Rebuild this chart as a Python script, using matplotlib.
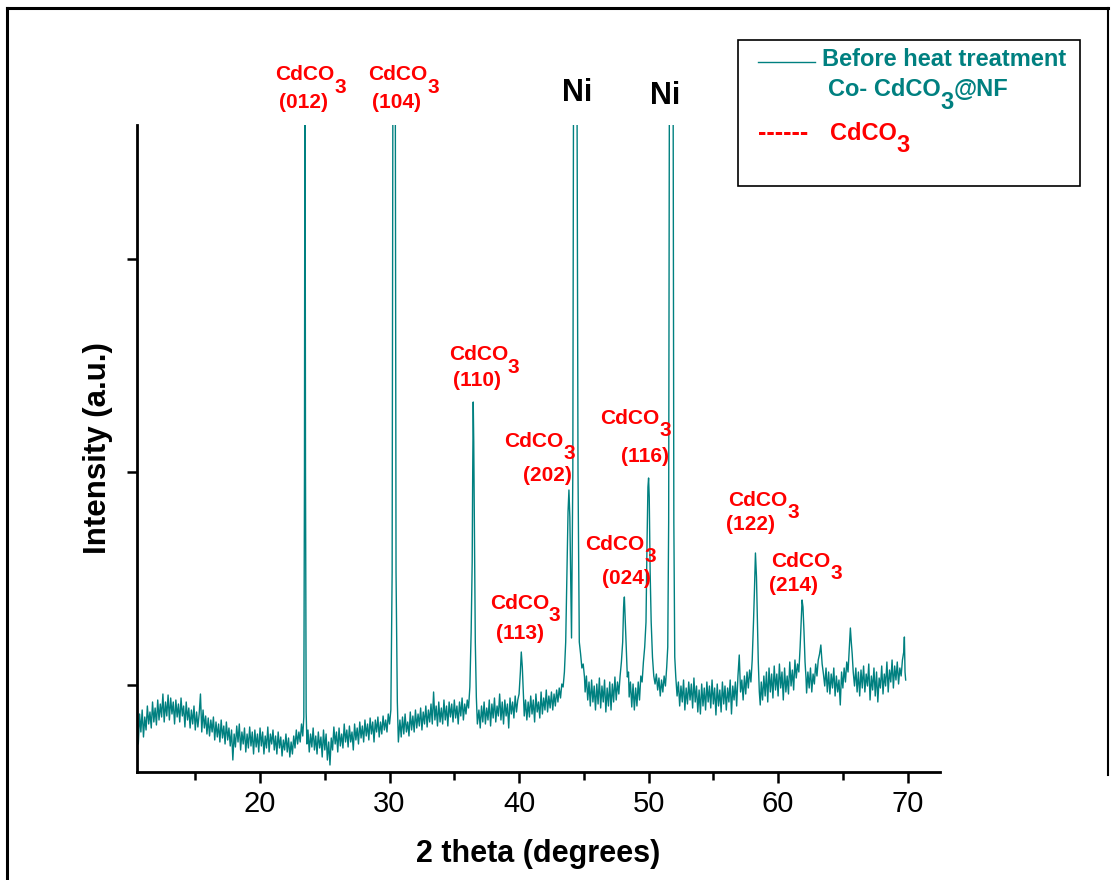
import matplotlib
matplotlib.use('Agg')
import matplotlib.pyplot as plt
from matplotlib.lines import Line2D
from matplotlib.patches import Rectangle
from matplotlib.ticker import MultipleLocator

# ---------------- data (2 theta in degrees, intensity in a.u.) ----------------
seg_low_angle = [
    (10.5, 45), (10.6, 28), (10.7, 58), (10.8, 40), (10.9, 62), (11.0, 35), (11.1, 55), (11.2, 42),
    (11.3, 66), (11.4, 48), (11.5, 60), (11.6, 44), (11.7, 70), (11.8, 50), (11.9, 64), (12.0, 47),
    (12.1, 72), (12.2, 52), (12.3, 68), (12.4, 55), (12.5, 78), (12.6, 50), (12.7, 70), (12.8, 56),
    (12.9, 77), (13.0, 52), (13.1, 74), (13.2, 58), (13.3, 70), (13.4, 48), (13.5, 72), (13.6, 55),
    (13.7, 68), (13.8, 50), (13.9, 74), (14.0, 56), (14.1, 66), (14.2, 45), (14.3, 70), (14.4, 52),
    (14.5, 64), (14.6, 44), (14.7, 62), (14.8, 48), (14.9, 66), (15.0, 42), (15.1, 60), (15.2, 45),
    (15.3, 58), (15.4, 78), (15.5, 40), (15.6, 62), (15.7, 44), (15.8, 56), (15.9, 38), (16.0, 54),
    (16.1, 36), (16.2, 52), (16.3, 40), (16.4, 55), (16.5, 32), (16.6, 50), (16.7, 35), (16.8, 48),
    (16.9, 30), (17.0, 52), (17.1, 34), (17.2, 46), (17.3, 28), (17.4, 50), (17.5, 32), (17.6, 44),
    (17.7, 26), (17.8, 42), (17.9, 12), (18.0, 38), (18.1, 25), (18.2, 46), (18.3, 30), (18.4, 48),
    (18.5, 22), (18.6, 40), (18.7, 28), (18.8, 44), (18.9, 20), (19.0, 38), (19.1, 24), (19.2, 45),
    (19.3, 26), (19.4, 40), (19.5, 18), (19.6, 42), (19.7, 25), (19.8, 38), (19.9, 20), (20.0, 44),
    (20.1, 26), (20.2, 40), (20.3, 18), (20.4, 36), (20.5, 24), (20.6, 45), (20.7, 20), (20.8, 38),
    (20.9, 28), (21.0, 42), (21.1, 22), (21.2, 36), (21.3, 18), (21.4, 40), (21.5, 24), (21.6, 35),
    (21.7, 16), (21.8, 32), (21.9, 22), (22.0, 38), (22.1, 20), (22.2, 34), (22.3, 15), (22.4, 30),
    (22.5, 18), (22.6, 36), (22.7, 24), (22.8, 42), (22.9, 28), (23.0, 40), (23.1, 30), (23.2, 48),
    (23.3, 36)]
seg_peak_012 = [(23.38, 55), (23.43, 300), (23.47, 800), (23.51, 300), (23.56, 60), (23.62, 28)]
seg_mid_a = [
    (23.7, 42), (23.8, 20), (23.9, 38), (24.0, 25), (24.1, 44), (24.2, 22), (24.3, 36), (24.4, 18),
    (24.5, 40), (24.6, 24), (24.7, 35), (24.8, 15), (24.9, 42), (25.0, 22), (25.1, 38), (25.2, 12),
    (25.3, 30), (25.4, 7), (25.5, 34), (25.6, 22), (25.7, 45), (25.8, 28), (25.9, 40), (26.0, 20),
    (26.1, 44), (26.2, 26), (26.3, 38), (26.4, 24), (26.5, 48), (26.6, 30), (26.7, 42), (26.8, 25),
    (26.9, 46), (27.0, 30), (27.1, 40), (27.2, 22), (27.3, 48), (27.4, 32), (27.5, 44), (27.6, 28),
    (27.7, 50), (27.8, 34), (27.9, 46), (28.0, 30), (28.1, 52), (28.2, 36), (28.3, 48), (28.4, 32),
    (28.5, 54), (28.6, 38), (28.7, 50), (28.8, 30), (28.9, 52), (29.0, 40), (29.1, 55), (29.2, 35),
    (29.3, 50), (29.4, 38), (29.5, 56), (29.6, 42), (29.7, 52), (29.8, 40), (29.9, 58), (30.0, 48)]
seg_peak_104 = [(30.1, 62), (30.2, 200), (30.27, 800), (30.43, 800), (30.5, 200), (30.6, 70), (30.68, 30)]
seg_mid_b = [
    (30.8, 52), (30.9, 35), (31.0, 55), (31.1, 38), (31.2, 58), (31.3, 40), (31.4, 50), (31.5, 36),
    (31.6, 60), (31.7, 42), (31.8, 56), (31.9, 40), (32.0, 62), (32.1, 44), (32.2, 58), (32.3, 46),
    (32.4, 64), (32.5, 42), (32.6, 60), (32.7, 48), (32.8, 66), (32.9, 45), (33.0, 62), (33.1, 50),
    (33.2, 68), (33.3, 48), (33.4, 80), (33.5, 52), (33.6, 66), (33.7, 46), (33.8, 70), (33.9, 50),
    (34.0, 64), (34.1, 48), (34.2, 72), (34.3, 52), (34.4, 66), (34.5, 46), (34.6, 70), (34.7, 55),
    (34.8, 68), (34.9, 50), (35.0, 72), (35.1, 54), (35.2, 66), (35.3, 48), (35.4, 70), (35.5, 56),
    (35.6, 74), (35.7, 52), (35.8, 68), (35.9, 58), (36.0, 72), (36.1, 64), (36.2, 85)]
seg_peak_110 = [(36.3, 140), (36.38, 210), (36.42, 300), (36.46, 370), (36.5, 330), (36.55, 250),
                (36.62, 130), (36.7, 75), (36.78, 48)]
seg_mid_c = [
    (36.9, 62), (37.0, 44), (37.1, 66), (37.2, 50), (37.3, 70), (37.4, 48), (37.5, 64), (37.6, 52),
    (37.7, 72), (37.8, 46), (37.9, 68), (38.0, 54), (38.1, 74), (38.2, 50), (38.3, 66), (38.4, 56),
    (38.5, 78), (38.6, 52), (38.7, 70), (38.8, 48), (38.9, 72), (39.0, 56), (39.1, 68), (39.2, 44),
    (39.3, 74), (39.4, 58), (39.5, 70), (39.6, 54), (39.7, 76), (39.8, 60), (39.9, 72), (40.0, 78)]
seg_peak_113 = [(40.1, 100), (40.17, 120), (40.25, 105), (40.33, 80), (40.4, 56)]
seg_mid_d = [
    (40.5, 72), (40.6, 52), (40.7, 70), (40.8, 55), (40.9, 76), (41.0, 58), (41.1, 72), (41.2, 50),
    (41.3, 78), (41.4, 60), (41.5, 70), (41.6, 54), (41.7, 80), (41.8, 58), (41.9, 74), (42.0, 62),
    (42.1, 82), (42.2, 60), (42.3, 76), (42.4, 64), (42.5, 80), (42.6, 62), (42.7, 78), (42.8, 66),
    (42.9, 82), (43.0, 70), (43.1, 84), (43.2, 74), (43.3, 88), (43.4, 85), (43.5, 100), (43.6, 130)]
seg_peak_202_ni = [(43.7, 200), (43.78, 260), (43.85, 282), (43.92, 255), (43.98, 200), (44.05, 134),
                   (44.15, 300), (44.22, 800), (44.45, 800), (44.55, 300), (44.65, 130), (44.75, 118),
                   (44.85, 104), (44.95, 108), (45.05, 95)]
seg_mid_e = [
    (45.1, 80), (45.2, 96), (45.3, 72), (45.4, 90), (45.5, 66), (45.6, 92), (45.7, 70), (45.8, 86),
    (45.9, 62), (46.0, 88), (46.1, 68), (46.2, 94), (46.3, 64), (46.4, 86), (46.5, 70), (46.6, 92),
    (46.7, 60), (46.8, 84), (46.9, 66), (47.0, 90), (47.1, 62), (47.2, 88), (47.3, 70), (47.4, 95),
    (47.5, 72), (47.6, 90), (47.7, 78), (47.8, 96)]
seg_peak_024_116 = [
    (47.9, 110), (48.0, 130), (48.07, 165), (48.13, 175), (48.2, 150), (48.28, 120), (48.36, 95),
    (48.45, 100), (48.5, 75), (48.6, 90), (48.7, 65), (48.8, 88), (48.9, 62), (49.0, 84), (49.1, 66),
    (49.2, 90), (49.3, 72), (49.4, 96), (49.5, 90), (49.6, 110), (49.7, 125), (49.8, 150), (49.88, 230),
    (49.95, 285), (50.0, 294), (50.05, 275), (50.12, 200), (50.2, 150), (50.3, 115), (50.4, 96),
    (50.5, 88), (50.6, 98), (50.7, 82), (50.8, 94), (50.9, 76), (51.0, 92), (51.1, 80), (51.2, 96),
    (51.3, 86), (51.4, 105), (51.48, 125)]
seg_peak_ni2 = [(51.55, 250), (51.62, 800), (51.88, 800), (51.95, 250), (52.02, 115), (52.1, 95), (52.2, 76)]
seg_mid_f = [
    (52.3, 90), (52.4, 66), (52.5, 86), (52.6, 70), (52.7, 92), (52.8, 62), (52.9, 84), (53.0, 68),
    (53.1, 90), (53.2, 72), (53.3, 88), (53.4, 64), (53.5, 94), (53.6, 70), (53.7, 86), (53.8, 60),
    (53.9, 82), (54.0, 58), (54.1, 88), (54.2, 66), (54.3, 84), (54.4, 62), (54.5, 90), (54.6, 70),
    (54.7, 86), (54.8, 64), (54.9, 92), (55.0, 68), (55.1, 84), (55.2, 57), (55.3, 88), (55.4, 66),
    (55.5, 82), (55.6, 60), (55.7, 90), (55.8, 68), (55.9, 86), (56.0, 62), (56.1, 84), (56.2, 70),
    (56.3, 92), (56.4, 58), (56.5, 86), (56.6, 72), (56.7, 90), (56.8, 66), (56.9, 96), (57.0, 117),
    (57.1, 80), (57.2, 92), (57.3, 72), (57.4, 96), (57.5, 78), (57.6, 100), (57.7, 84), (57.8, 102),
    (57.9, 90), (58.0, 112)]
seg_peak_122 = [(58.1, 150), (58.17, 180), (58.25, 219), (58.33, 195), (58.4, 150), (58.47, 110),
                (58.55, 80), (58.62, 67)]
seg_mid_g = [
    (58.7, 90), (58.8, 72), (58.9, 96), (59.0, 76), (59.1, 100), (59.2, 70), (59.3, 104), (59.4, 80),
    (59.5, 98), (59.6, 74), (59.7, 106), (59.8, 82), (59.9, 98), (60.0, 76), (60.1, 108), (60.2, 84),
    (60.3, 100), (60.4, 72), (60.5, 104), (60.6, 80), (60.7, 96), (60.8, 78), (60.9, 110), (61.0, 86),
    (61.1, 102), (61.2, 82), (61.3, 112), (61.4, 94), (61.5, 108), (61.6, 100), (61.7, 125)]
seg_high_angle = [
    (61.78, 150), (61.85, 172), (61.92, 165), (62.0, 140), (62.08, 110), (62.15, 95), (62.2, 79),
    (62.3, 100), (62.4, 84), (62.5, 104), (62.6, 80), (62.7, 98), (62.8, 88), (62.9, 108), (63.0, 96),
    (63.1, 112), (63.2, 118), (63.3, 127), (63.4, 108), (63.5, 98), (63.6, 86), (63.7, 104), (63.8, 80),
    (63.9, 100), (64.0, 78), (64.1, 98), (64.2, 84), (64.3, 104), (64.4, 76), (64.5, 96), (64.6, 80),
    (64.7, 92), (64.8, 67), (64.9, 100), (65.0, 84), (65.1, 104), (65.2, 90), (65.3, 110), (65.4, 100),
    (65.5, 125), (65.58, 144), (65.65, 130), (65.72, 118), (65.8, 100), (65.9, 86), (66.0, 104),
    (66.1, 80), (66.2, 100), (66.3, 76), (66.4, 102), (66.5, 84), (66.6, 106), (66.7, 80), (66.8, 98),
    (66.9, 86), (67.0, 108), (67.1, 72), (67.2, 96), (67.3, 82), (67.4, 104), (67.5, 76), (67.6, 100),
    (67.7, 70), (67.8, 94), (67.9, 84), (68.0, 106), (68.1, 78), (68.2, 98), (68.3, 86), (68.4, 110),
    (68.5, 80), (68.6, 102), (68.7, 90), (68.8, 112), (68.9, 84), (69.0, 106), (69.1, 92), (69.2, 110),
    (69.3, 88), (69.4, 104), (69.5, 96), (69.6, 112), (69.7, 120), (69.75, 135), (69.8, 100), (69.85, 92)]

segments = [seg_low_angle, seg_peak_012, seg_mid_a, seg_peak_104, seg_mid_b, seg_peak_110,
            seg_mid_c, seg_peak_113, seg_mid_d, seg_peak_202_ni, seg_mid_e, seg_peak_024_116,
            seg_peak_ni2, seg_mid_f, seg_peak_122, seg_mid_g, seg_high_angle]
points = [p for seg in segments for p in seg]
two_theta = [p[0] for p in points]
intensity = [p[1] for p in points]

x_ticks = [20, 30, 40, 50, 60, 70]
y_ticks = [87, 300, 513]

# labels: (hkl, CdCO label position, hkl label position)
cdco3_labels = [("(012)", (23.48, 697), (23.32, 670)),
                ("(104)", (30.66, 697), (30.51, 670)),
                ("(110)", (36.85, 417), (36.77, 392)),
                ("(202)", (41.15, 331), (42.2, 297)),
                ("(113)", (40.02, 169), (40.09, 139)),
                ("(024)", (47.36, 228), (48.28, 194)),
                ("(116)", (48.55, 354), (49.75, 316)),
                ("(122)", (58.41, 272), (57.87, 248)),
                ("(214)", (61.73, 211), (61.19, 187))]
ni_labels = [("Ni", (44.5, 679)), ("Ni", (51.3, 676))]

TEAL = '#008080'
RED = '#FF0000'
FONT = ['Liberation Sans', 'DejaVu Sans']

W, H = 1116, 880
fig = plt.figure(figsize=(W / 100, H / 100), dpi=100)
ax = fig.add_axes([137 / W, 1 - 772 / H, (940 - 137) / W, (772 - 125) / H])

ax.plot(two_theta, intensity, color=TEAL, lw=1.0)

ax.set_xlim(10.5, 72.5)
ax.set_ylim(0, 647)
ax.set_xticks(x_ticks)
ax.xaxis.set_minor_locator(MultipleLocator(5))
ax.set_yticks(y_ticks)
ax.set_yticklabels([])
for s in ['top', 'right']:
    ax.spines[s].set_visible(False)
for s in ['left', 'bottom']:
    ax.spines[s].set_linewidth(2.0)
ax.tick_params(axis='x', which='major', direction='out', length=8, width=1.8,
               labelsize=21, pad=5, labelfontfamily=FONT)
ax.tick_params(axis='x', which='minor', direction='out', length=6, width=1.8)
ax.tick_params(axis='y', which='major', direction='out', length=7, width=1.8)

ax.set_xlabel('2 theta (degrees)', fontsize=22, fontweight='bold', family=FONT, labelpad=15)
ax.set_ylabel('Intensity (a.u.)', fontsize=22.5, fontweight='bold', family=FONT, labelpad=7)

for hkl, (cx, cy), (hx, hy) in cdco3_labels:
    t = ax.text(cx, cy, 'CdCO', color=RED, fontsize=15, fontweight='bold', family=FONT,
                ha='center', va='center')
    ax.annotate('3', xy=(1.0, -0.15), xycoords=t, color=RED, fontsize=15, fontweight='bold',
                family=FONT, ha='left', va='center', annotation_clip=False)
    ax.text(hx, hy, hkl, color=RED, fontsize=15, fontweight='bold', family=FONT,
            ha='center', va='center')

for txt, (nx, ny) in ni_labels:
    ax.text(nx, ny, txt, color='black', fontsize=22, fontweight='bold', family=FONT,
            ha='center', va='center')

# legend box
fig.add_artist(Rectangle((738 / W, 1 - 186 / H), (1080 - 738) / W, (186 - 40) / H,
                         transform=fig.transFigure, fill=False, ec='black', lw=1.2))
fig.add_artist(Line2D([758 / W, 815 / W], [1 - 62 / H] * 2, transform=fig.transFigure,
                      color=TEAL, lw=1.0))
fig.text(822 / W, 1 - 60 / H, 'Before heat treatment', color=TEAL, fontsize=17,
         fontweight='bold', family=FONT, ha='left', va='center')
t1 = fig.text(828 / W, 1 - 90 / H, 'Co- CdCO', color=TEAL, fontsize=17,
              fontweight='bold', family=FONT, ha='left', va='center')
t2 = ax.annotate('3', xy=(1.0, -0.05), xycoords=t1, color=TEAL, fontsize=17, fontweight='bold',
                 family=FONT, ha='left', va='center', annotation_clip=False)
ax.annotate('@NF', xy=(1.0, 0.5), xycoords=(t2, t1), color=TEAL, fontsize=17, fontweight='bold',
            family=FONT, ha='left', va='center', annotation_clip=False)
fig.text(758 / W, 1 - 133 / H, '------', color=RED, fontsize=18, fontweight='bold',
         family=FONT, ha='left', va='center')
t3 = fig.text(830 / W, 1 - 133 / H, 'CdCO', color=RED, fontsize=17, fontweight='bold',
              family=FONT, ha='left', va='center')
ax.annotate('3', xy=(1.0, -0.05), xycoords=t3, color=RED, fontsize=17, fontweight='bold',
            family=FONT, ha='left', va='center', annotation_clip=False)

# figure frame
fx0, fx1, fy1 = 7 / W, 1108 / W, 1 - 8 / H
fig.add_artist(Line2D([fx0, fx0], [0, fy1], transform=fig.transFigure, color='black', lw=2.2))
fig.add_artist(Line2D([fx0, fx1], [fy1, fy1], transform=fig.transFigure, color='black', lw=2.2))
fig.add_artist(Line2D([fx1, fx1], [fy1, 1 - 775 / H], transform=fig.transFigure, color='black', lw=1.5))

fig.savefig('out.png', dpi=100)
